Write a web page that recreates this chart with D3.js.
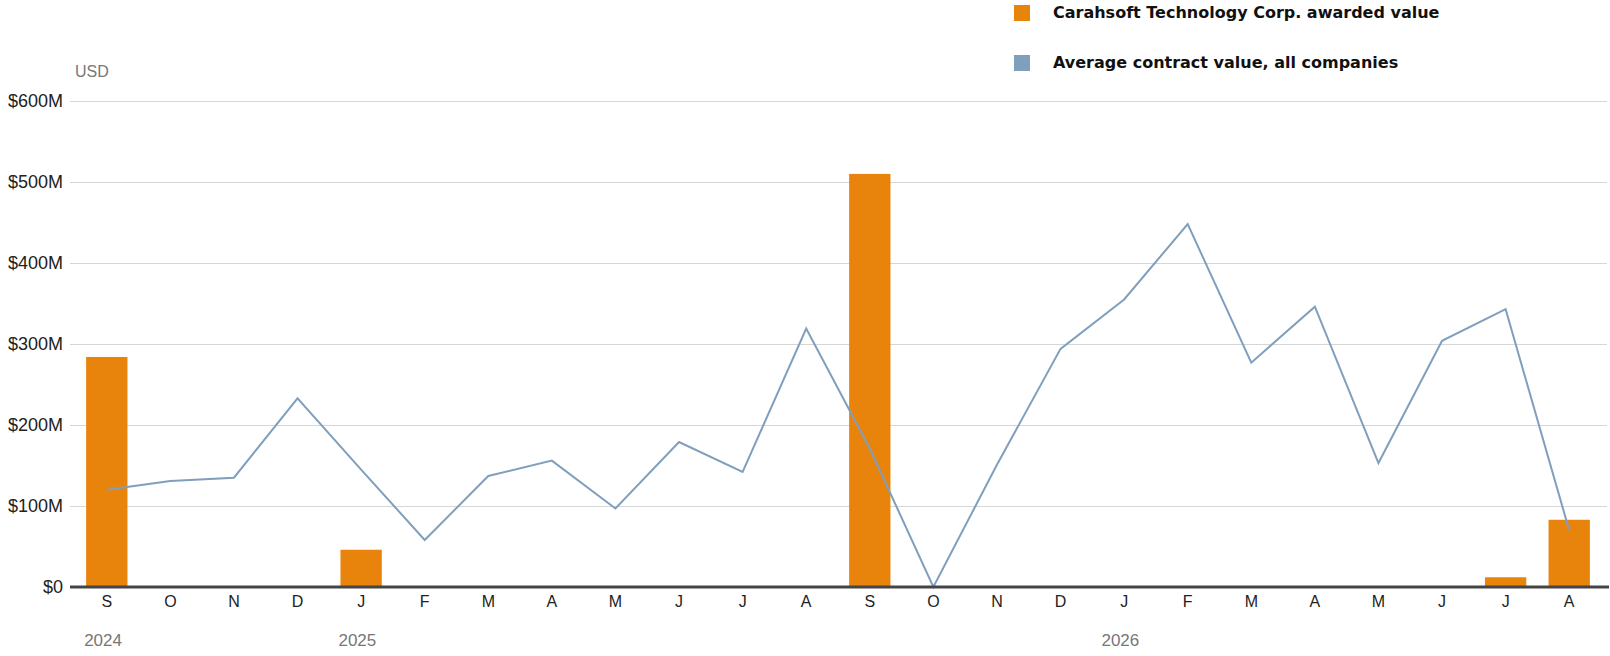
<!DOCTYPE html>
<html>
<head>
    <meta charset="utf-8">
    <script type="text/javascript" src="https://cdn.jsdelivr.net/npm/d3@7"></script>
    <style>
        body { margin: 0; background: #fff; }
        text { font-family: "Liberation Sans", Arial, sans-serif; }
    </style>
</head>
<body>
    <div id="chart"></div>
    <script type="text/javascript">

        // months from Sep 2024 to Aug 2026
        const months = ["S", "O", "N", "D", "J", "F", "M", "A", "M", "J", "J", "A",
            "S", "O", "N", "D", "J", "F", "M", "A", "M", "J", "J", "A"];
        const yearLabels = [[0, "2024"], [4, "2025"], [16, "2026"]];

        // Carahsoft awarded value, $M (0 = nothing awarded)
        const awarded = [284, 0, 0, 0, 46, 0, 0, 0, 0, 0, 0, 0,
            510, 0, 0, 0, 0, 0, 0, 0, 0, 0, 12, 83];
        // average contract value across all companies, $M
        const average = [120, 131, 135, 233, 145, 58, 137, 156, 97, 179, 142, 319,
            171, 0, 151, 294, 355, 448, 277, 346, 153, 304, 343, 70];

        const yTicks = [0, 100, 200, 300, 400, 500, 600];
        const legendItems = [
            ["Carahsoft Technology Corp. awarded value", "#e8830c"],
            ["Average contract value, all companies", "#7f9fbd"]
        ];

        const width = 1610, height = 656;
        const plotLeft = 70, plotRight = 1607;

        const svg = d3.select("#chart")
            .append("svg")
            .attr("width", width)
            .attr("height", height);

        const x = d3.scaleBand()
            .domain(d3.range(months.length))
            .range([75, 1601])
            .paddingInner(0.35)
            .paddingOuter(0.175);

        const y = d3.scaleLinear()
            .domain([0, 600])
            .range([587, 101]);

        // gridlines
        svg.append("g")
            .selectAll("line")
            .data(yTicks.filter(d => d > 0))
            .enter()
            .append("line")
            .attr("x1", plotLeft)
            .attr("x2", plotRight)
            .attr("y1", d => y(d) + 0.5)
            .attr("y2", d => y(d) + 0.5)
            .style("stroke", "#d6d6d6")
            .style("stroke-width", 1);

        // y labels
        svg.append("g")
            .selectAll("text")
            .data(yTicks)
            .enter()
            .append("text")
            .attr("x", 63)
            .attr("y", d => y(d))
            .attr("dy", "0.36em")
            .attr("text-anchor", "end")
            .style("font-size", "18px")
            .style("fill", "#222")
            .text(d => d === 0 ? "$0" : "$" + d + "M");

        svg.append("text")
            .attr("x", 75)
            .attr("y", 77)
            .style("font-size", "16px")
            .style("fill", "#777")
            .text("USD");

        // bars
        svg.append("g")
            .selectAll("rect")
            .data(awarded.map((v, i) => [i, v]).filter(d => d[1] > 0))
            .enter()
            .append("rect")
            .attr("x", d => x(d[0]))
            .attr("width", x.bandwidth())
            .attr("y", d => y(d[1]))
            .attr("height", d => y(0) - y(d[1]))
            .style("fill", "#e8830c");

        // average line
        const line = d3.line()
            .x((d, i) => x(i) + x.bandwidth() / 2)
            .y(d => y(d));

        svg.append("path")
            .datum(average)
            .attr("d", line)
            .style("fill", "none")
            .style("stroke", "#7f9fbd")
            .style("stroke-width", 2)
            .style("stroke-linejoin", "miter");

        // baseline
        svg.append("line")
            .attr("x1", plotLeft)
            .attr("x2", 1609)
            .attr("y1", y(0))
            .attr("y2", y(0))
            .style("stroke", "#444")
            .style("stroke-width", 3);

        // month labels
        svg.append("g")
            .selectAll("text")
            .data(months)
            .enter()
            .append("text")
            .attr("x", (d, i) => x(i) + x.bandwidth() / 2)
            .attr("y", 607)
            .attr("text-anchor", "middle")
            .style("font-size", "16px")
            .style("fill", "#222")
            .text(d => d);

        // year labels
        svg.append("g")
            .selectAll("text")
            .data(yearLabels)
            .enter()
            .append("text")
            .attr("x", d => x(d[0]) - 2)
            .attr("y", 646)
            .style("font-size", "17px")
            .style("fill", "#777")
            .text(d => d[1]);

        // legend
        const legend = svg.append("g")
            .selectAll("g")
            .data(legendItems)
            .enter()
            .append("g")
            .attr("transform", (d, i) => `translate(1014, ${5 + i * 50})`);

        legend.append("rect")
            .attr("width", 16)
            .attr("height", 16)
            .style("fill", d => d[1]);

        legend.append("text")
            .attr("x", 39)
            .attr("y", 13)
            .style("font-family", "'DejaVu Sans', sans-serif")
            .style("font-size", "16px")
            .style("font-weight", "bold")
            .style("fill", "#111")
            .text(d => d[0]);

    </script>
</body>
</html>
